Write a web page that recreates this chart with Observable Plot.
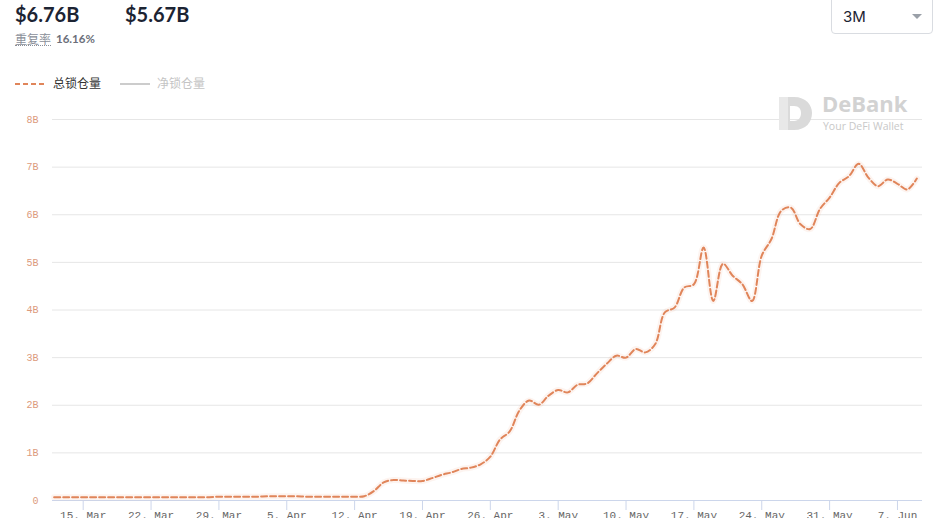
<!DOCTYPE html>
<html>
<head>
<meta charset="utf-8">
<script src="https://cdn.jsdelivr.net/npm/d3@7"></script>
<script src="https://cdn.jsdelivr.net/npm/@observablehq/plot@0.6"></script>
<style>
  html, body { margin: 0; padding: 0; background: #fff; width: 950px; height: 518px; overflow: hidden; }
  body { position: relative; font-family: Lato, "Noto Sans", sans-serif; }
  #chart { position: absolute; left: 0; top: 0; }
  .abs { position: absolute; white-space: nowrap; line-height: 1.15; }
  .big { font-weight: 700; font-size: 20px; color: #1c2433; }
  .rep { font-size: 12px; color: #8a8f99; border-bottom: 1px dotted #8a8f99; line-height: 13px; font-family: "Noto Sans CJK SC", sans-serif; }
  .repv { font-size: 11.5px; font-weight: 700; color: #6b707a; }
  .leg { font-size: 12px; font-family: "Noto Sans CJK SC", sans-serif; }
  #sel { left: 831px; top: -4px; width: 102px; height: 38px; border: 1px solid #d9dce1; border-radius: 4px; box-sizing: border-box; }
</style>
</head>
<body>
<div id="chart"></div>
<div class="abs big" style="left:15px; top:3px;">$6.76B</div>
<div class="abs" style="left:126px; top:-1px; width:62px; border-top:1px dotted #8a8f99;"></div>
<div class="abs big" style="left:125px; top:3px;">$5.67B</div>
<div class="abs rep" style="left:15px; top:32px;">重复率</div>
<div class="abs repv" style="left:56px; top:32px;">16.16%</div>

<svg class="abs" style="left:0; top:71px;" width="220" height="26">
  <line x1="15" x2="45" y1="13" y2="13" stroke="#e0855a" stroke-width="2" stroke-dasharray="5,3"/>
  <line x1="120" x2="150" y1="13" y2="13" stroke="#cccccc" stroke-width="2"/>
</svg>
<div class="abs leg" style="left:53px; top:76px; color:#333;">总锁仓量</div>
<div class="abs leg" style="left:157px; top:76px; color:#c4c4c4;">净锁仓量</div>

<div id="sel" class="abs"></div>
<div class="abs" style="left:843px; top:8px; font-size:15px; color:#1c2433; font-family:Inter, Lato, sans-serif;">3M</div>
<svg class="abs" style="left:910px; top:12px;" width="14" height="10"><path d="M2,2 L12,2 L7,7 Z" fill="#9aa0a8"/></svg>

<svg class="abs" style="left:776px; top:94px;" width="40" height="40">
  <path d="M3,3 L18,3 C30,3 36,11 36,19 C36,28 30,36 18,36 L3,36 Z M14,12 L14,27 L18,27 C23,27 25,23 25,19 C25,15 23,12 18,12 Z" fill="#dadada" fill-rule="evenodd"/>
  <path d="M3,3 L12,3 L12,36 L3,36 Z" fill="#e8e8e8"/>
</svg>
<div class="abs" style="left:822px; top:92px; font-size:22px; line-height:22px; font-weight:700; color:#d2d2d2; font-family:'Open Sans', Lato, sans-serif;">DeBank</div>
<div class="abs" style="left:823px; top:121px; font-size:10.5px; line-height:11px; color:#c8c8c8; font-family:'Open Sans', Lato, sans-serif;">Your DeFi Wallet</div>

<script>
// Data: total locked value (billions USD), daily from 2021-03-12
const startDate = "2021-03-12";
const tvlValues = [
  0.07, 0.07, 0.07, 0.07, 0.07, 0.07, 0.07, 0.07, 0.07, 0.07,
  0.07, 0.07, 0.07, 0.07, 0.07, 0.07, 0.07, 0.08, 0.08, 0.08,
  0.08, 0.08, 0.09, 0.09, 0.09, 0.09, 0.08, 0.08, 0.08, 0.08,
  0.08, 0.08, 0.09, 0.20, 0.38, 0.43, 0.42, 0.41, 0.41, 0.47,
  0.54, 0.59, 0.66, 0.69, 0.76, 0.92, 1.28, 1.45, 1.89, 2.10,
  2.01, 2.20, 2.32, 2.27, 2.43, 2.46, 2.67, 2.87, 3.04, 3.00,
  3.18, 3.11, 3.28, 3.95, 4.05, 4.47, 4.54, 5.31, 4.19, 4.97,
  4.72, 4.54, 4.19, 5.14, 5.49, 6.08, 6.15, 5.80, 5.70, 6.12,
  6.36, 6.67, 6.81, 7.07, 6.78, 6.60, 6.74, 6.65, 6.53, 6.76
];
const yTicks = [0, 1, 2, 3, 4, 5, 6, 7, 8];
const xTickDates = ["2021-03-15", "2021-03-22", "2021-03-29", "2021-04-05", "2021-04-12",
  "2021-04-19", "2021-04-26", "2021-05-03", "2021-05-10", "2021-05-17", "2021-05-24",
  "2021-05-31", "2021-06-07"];
const monthNames = ["Jan", "Feb", "Mar", "Apr", "May", "Jun", "Jul", "Aug", "Sep", "Oct", "Nov", "Dec"];
const xDomain = ["2021-03-11T20:00:00Z", "2021-06-09T14:00:00Z"];

const t0 = new Date(startDate + "T00:00:00Z");
const data = tvlValues.map((v, i) => ({ date: new Date(t0.getTime() + i * 86400000), value: v }));
const ticks = xTickDates.map(s => new Date(s + "T00:00:00Z"));
const fmtX = d => `${d.getUTCDate()}. ${monthNames[d.getUTCMonth()]}`;
const fmtY = d => d === 0 ? "0" : d + "B";
const mono = "'Liberation Mono', 'DejaVu Sans Mono', monospace";

const chart = Plot.plot({
  width: 950,
  height: 518,
  marginTop: 119,
  marginBottom: 18,
  marginLeft: 52,
  marginRight: 28,
  style: { background: "transparent", fontFamily: mono },
  x: { type: "utc", domain: xDomain.map(s => new Date(s)), axis: null },
  y: { domain: [0, 8], axis: null },
  marks: [
    Plot.gridY(yTicks.filter(d => d > 0), { stroke: "#e6e6e6", strokeOpacity: 1, strokeWidth: 1 }),
    Plot.ruleY([0], { stroke: "#ccd6eb", strokeWidth: 1 }),
    Plot.axisY(yTicks, { tickSize: 0, tickPadding: 14, tickFormat: fmtY, fill: "#dc9a7c", fontSize: 10, fontFamily: mono, label: null }),
    Plot.axisX(ticks, { tickSize: 10, tickPadding: 1, tickFormat: fmtX, stroke: "#ccd6eb", fill: "#666", fontSize: 11, fontFamily: mono, label: null }),
    Plot.line(data, { x: "date", y: "value", stroke: "#f4b89c", strokeWidth: 6, strokeOpacity: 0.15, curve: "catmull-rom" }),
    Plot.line(data, { x: "date", y: "value", stroke: "#e0855a", strokeWidth: 2, strokeDasharray: "6,3", curve: "catmull-rom" })
  ]
});
document.getElementById("chart").appendChild(chart);
</script>
</body>
</html>
